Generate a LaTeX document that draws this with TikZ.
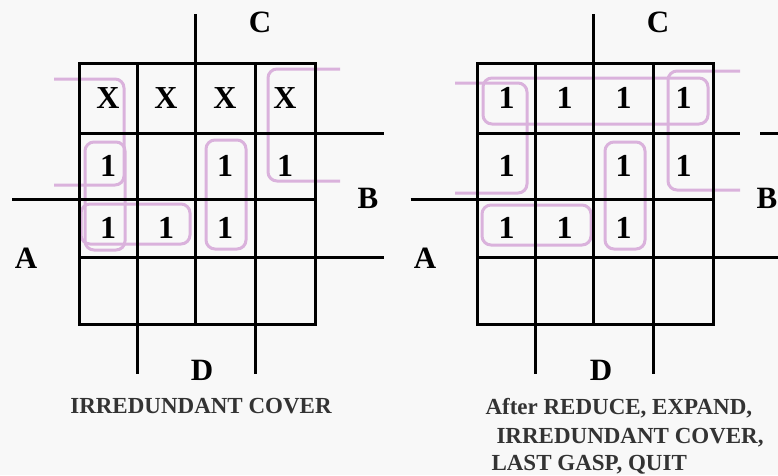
\documentclass[tikz,border=0pt]{standalone}
\usepackage{fontspec}
\setmainfont{Liberation Serif}
\usetikzlibrary{positioning}
\definecolor{paper}{HTML}{F8F8F8}
\definecolor{loopc}{HTML}{DAB2DC}
\definecolor{captc}{HTML}{333333}
\newcommand{\kgrid}[1]{\draw[kline] (#1+79,63) rectangle (#1+315,324);
\foreach \gx in {137,195,255}{\draw[kline] (#1+\gx,63)--(#1+\gx,324);}
\foreach \gy in {133,199,257}{\draw[kline] (#1+79,\gy)--(#1+315,\gy);}
\draw[kline] (#1+195,14)--(#1+195,63);\draw[kline] (#1+12,199)--(#1+79,199);
\draw[kline] (#1+137,324)--(#1+137,374);\draw[kline] (#1+255,324)--(#1+255,374);}

\begin{document}
\begin{tikzpicture}[x=1pt,y=-1pt,
  kline/.style={line width=3pt},
  ring/.style={loopc,line width=3pt,rounded corners=9pt},
  entry/.style={font=\fontsize{32}{32}\selectfont\bfseries},
  lbl/.style={font=\fontsize{31}{31}\selectfont\bfseries,anchor=base},
  capt/.style={font=\fontsize{23}{27}\selectfont\bfseries,text=captc,anchor=base west}]
\useasboundingbox (0,0) rectangle (778,475);
\fill[paper] (0,0) rectangle (778,475);
\draw[ring] (54,79)--(124,79)--(124,185)--(54,185);
\draw[ring] (85,142) rectangle (125,250);\draw[ring] (81,204) rectangle (190,244);
\draw[ring] (206,140) rectangle (246,249);
\draw[ring] (340,69)--(268,69)--(268,181)--(340,181);
\draw[ring] (455,83)--(527,83)--(527,193)--(455,193);
\draw[ring] (483,78) rectangle (708,124);\draw[ring] (482,205) rectangle (591,245);
\draw[ring] (605,142) rectangle (645,249);
\draw[ring] (740,71)--(668,71)--(668,190)--(740,190);
\kgrid{0}
\kgrid{398.5}
\draw[kline] (315,133)--(384,133);\draw[kline] (315,257)--(384,257);
\draw[kline] (713,133)--(740,133);\draw[kline] (760,133)--(778,133);\draw[kline] (713,257)--(778,257);
\foreach \n/\x/\y/\t in {a1/108/98/X,a2/166/98/X,a3/225/98/X,a4/285/98/X,b1/108/166/1,b3/225/166/1,b4/285/166/1,c1/108/228/1,c2/166/228/1,c3/225/228/1}
  {\node[entry] (L\n) at (\x,\y) {\t};}
\foreach \n/\x/\y in {a1/108/98,a2/166/98,a3/225/98,a4/285/98,b1/108/166,b3/225/166,b4/285/166,c1/108/228,c2/166/228,c3/225/228}
  {\node[entry] (R\n) at (\x+398.5,\y) {1};}
\node[lbl] (lC) at (260,32) {C};\node[lbl] (lB) at (368,208) {B};
\node[lbl] (lA) at (26,268) {A};\node[lbl] (lD) at (202,380) {D};
\node[lbl] (rC) at (658,32) {C};\node[lbl] (rB) at (767,208) {B};
\node[lbl] (rA) at (425,268) {A};\node[lbl] (rD) at (601,380) {D};
\node[capt,anchor=base] (lcap) at (201,413) {IRREDUNDANT COVER};
\node[capt] (rcap1) at (482,414) {After REDUCE, EXPAND,};
\node[capt] (rcap2) at (493,443) {IRREDUNDANT COVER,};
\node[capt] (rcap3) at (488,470) {LAST GASP, QUIT};
\end{tikzpicture}
\end{document}
